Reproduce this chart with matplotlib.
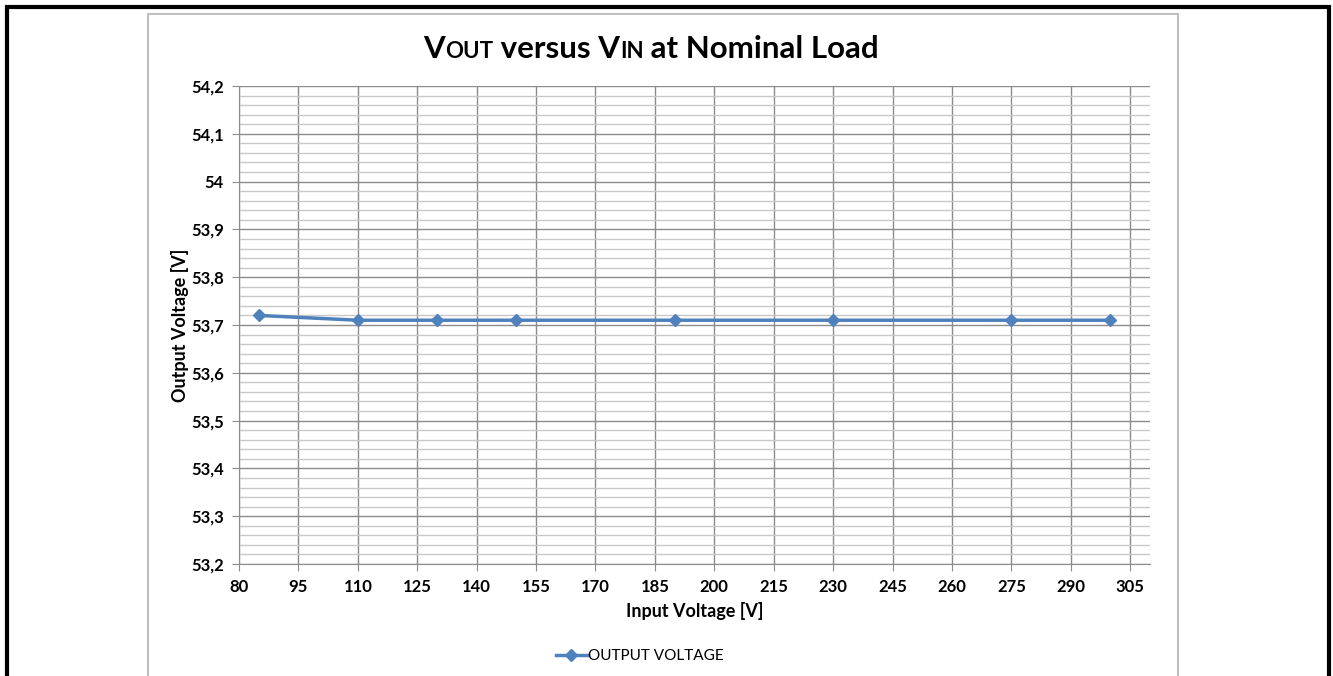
import matplotlib
matplotlib.use('Agg')
import matplotlib.pyplot as plt
from matplotlib.patches import Rectangle
from matplotlib.ticker import FixedLocator, MultipleLocator, FuncFormatter

plt.rcParams['font.family'] = ['Lato', 'DejaVu Sans']

# measured points
vin = [85, 110, 130, 150, 190, 230, 275, 300]
vout = [53.72, 53.71, 53.71, 53.71, 53.71, 53.71, 53.71, 53.71]
series_name = 'OUTPUT VOLTAGE'
x_ticks = list(range(80, 306, 15))

W, H = 1333, 676
fig = plt.figure(figsize=(W / 100, H / 100), dpi=100)

# outer black frame and grey chart-area frame (open at the bottom)
fig.add_artist(Rectangle((7 / W, -0.1), (1329 - 7) / W, 1.1 - 7 / H,
                         transform=fig.transFigure, fill=False,
                         edgecolor='black', lw=3))
fig.add_artist(Rectangle((148 / W, -0.1), (1178 - 148) / W, 1.1 - 14 / H,
                         transform=fig.transFigure, fill=False,
                         edgecolor='#bfbfbf', lw=1.5))

ax = fig.add_axes([239 / W, 1 - 564 / H, (1150 - 239) / W, (564 - 86) / H])

ax.plot(vin, vout, color='#4f81bd', lw=2.5, marker='D', ms=6,
        label=series_name, zorder=3)

ax.set_xlim(80, 310)
ax.set_ylim(53.2, 54.2)
ax.xaxis.set_major_locator(FixedLocator(x_ticks))
ax.yaxis.set_major_locator(MultipleLocator(0.1))
ax.yaxis.set_minor_locator(MultipleLocator(0.02))


def comma_fmt(v, pos):
    s = '{:.1f}'.format(v)
    if s.endswith('.0'):
        s = s[:-2]
    return s.replace('.', ',')


ax.yaxis.set_major_formatter(FuncFormatter(comma_fmt))

ax.grid(which='major', axis='both', color='#8c8c8c', lw=1)
ax.grid(which='minor', axis='y', color='#c8c8c8', lw=1)
ax.set_axisbelow(True)
ax.tick_params(which='minor', length=0)
ax.tick_params(which='major', length=5, color='#8c8c8c', labelsize=12, pad=6)
for lab in ax.get_xticklabels() + ax.get_yticklabels():
    lab.set_fontweight('bold')

for side in ['top', 'right']:
    ax.spines[side].set_visible(False)
for side in ['left', 'bottom']:
    ax.spines[side].set_color('#8c8c8c')

ax.set_xlabel('Input Voltage [V]', fontsize=13, fontweight='bold', labelpad=5)
ax.set_ylabel('Output Voltage [V]', fontsize=13, fontweight='bold', labelpad=1)

# title with small caps subscripts, built piece by piece and centred
pieces = [('V', 22.5), ('OUT', 16), (' versus V', 22.5), ('IN', 16),
          (' at Nominal Load', 22.5)]
renderer = fig.canvas.get_renderer()
texts = []
for s, size in pieces:
    t = fig.text(0, 1 - 58 / H, s, fontsize=size, fontweight='bold',
                 va='baseline', ha='left')
    texts.append(t)
widths = [t.get_window_extent(renderer).width for t in texts]
total = sum(widths)
x = 651 - total / 2
for t, w in zip(texts, widths):
    t.set_x(x / W)
    x += w

fig.legend(loc='center', bbox_to_anchor=(640 / W, 1 - 656 / H),
           frameon=False, fontsize=11, handlelength=2.0, handletextpad=0.1)

fig.savefig('out.png', dpi=100)
